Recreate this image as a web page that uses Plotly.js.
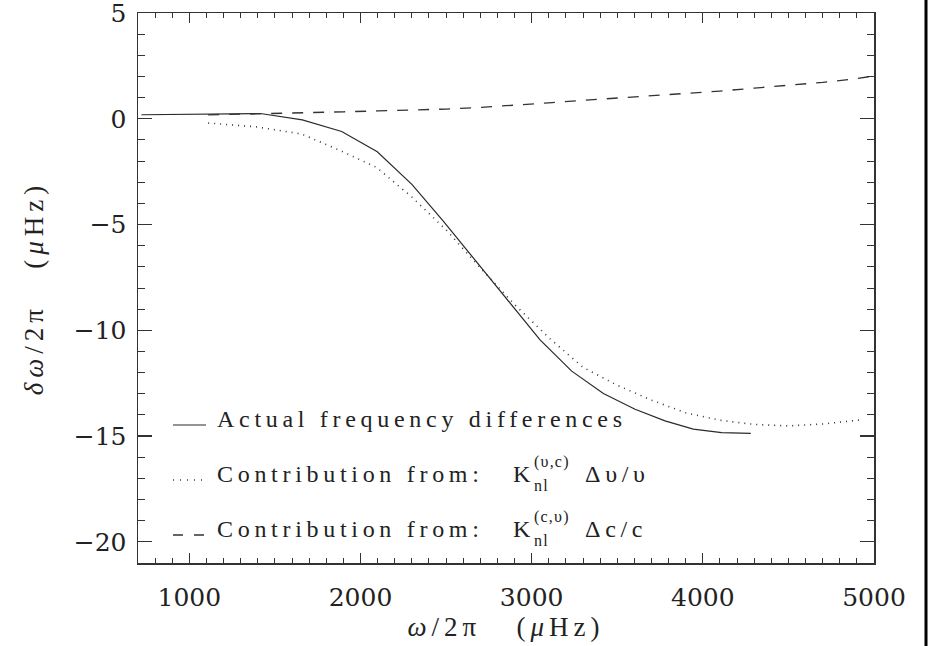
<!DOCTYPE html>
<html>
<head>
<meta charset="utf-8">
<script src="https://cdn.plot.ly/plotly-3.0.1.min.js"></script>
<style>
  html, body { margin: 0; padding: 0; background: #fff; }
  #chart { width: 929px; height: 646px; }
  .annotation-text { letter-spacing: 4.7px; }
  text.annotation-text[style*="font-size: 16px"] { letter-spacing: 1.2px; }
  .xtitle, .ytitle { letter-spacing: 5px; }
</style>
</head>
<body>
<div id="chart"></div>
<script>
// ---- data ----
const freqActual = [720, 1415, 1660, 1890, 2098, 2300, 2480, 2680, 2870, 3049, 3234, 3419, 3604, 3779, 3944, 4110, 4280];
const diffActual = [0.19, 0.25, -0.05, -0.6, -1.56, -3.1, -4.8, -6.8, -8.65, -10.45, -11.93, -12.99, -13.73, -14.28, -14.67, -14.84, -14.87];

const freqRho = [1110, 1390, 1656, 1880, 2094, 2300, 2500, 2700, 2900, 3100, 3300, 3500, 3700, 3900, 4100, 4300, 4500, 4700, 4940];
const diffRho = [-0.2, -0.38, -0.72, -1.5, -2.3, -3.7, -5.25, -7.05, -8.78, -10.35, -11.75, -12.6, -13.3, -13.9, -14.25, -14.45, -14.52, -14.43, -14.22];

const freqC = [1110, 1300, 1500, 1700, 1900, 2100, 2300, 2500, 2700, 2900, 3100, 3300, 3500, 3700, 3900, 4100, 4300, 4500, 4700, 4900, 4980];
const diffC = [0.18, 0.21, 0.24, 0.28, 0.33, 0.37, 0.40, 0.46, 0.54, 0.63, 0.75, 0.87, 0.98, 1.07, 1.17, 1.31, 1.45, 1.59, 1.72, 1.90, 2.0];

const xTickVals = [1000, 2000, 3000, 4000, 5000];
const xTickText = ['1000', '2000', '3000', '4000', '5000'];
const yTickVals = [5, 0, -5, -10, -15, -20];

const legendLabels = ['Actual frequency differences', 'Contribution from:', 'Contribution from:'];
const legendSup = ['(υ,c)', '(c,υ)'];
const legendRatio = ['Δυ/υ', 'Δc/c'];

const xTitle = '<i>ω</i>/2π\u00a0\u00a0\u00a0(<i>μ</i>Hz)';
const yTitle = '<i>δω</i>/2π\u00a0\u00a0\u00a0(<i>μ</i>Hz)';

// ---- layout geometry ----
const W = 929, H = 646;
const M = {l: 138, r: 55, t: 13, b: 83};
const PW = W - M.l - M.r, PH = H - M.t - M.b;
const px = x => (x - M.l) / PW;
const py = y => (H - M.b - y) / PH;

const lineCol = '#2a2a2a';
const txtFont = {family: 'Liberation Serif', size: 24, color: '#222'};
const supFont = {family: 'Liberation Serif', size: 16, color: '#222'};

const traces = [
  {x: freqActual, y: diffActual, mode: 'lines', line: {color: lineCol, width: 1.2}, showlegend: false},
  {x: freqRho, y: diffRho, mode: 'lines', line: {color: '#333', width: 1.6, dash: '1px,5px'}, showlegend: false},
  {x: freqC, y: diffC, mode: 'lines', line: {color: '#333', width: 1.3, dash: '11px,10px'}, showlegend: false}
];

const rowY = [419, 474, 529];
const annotations = [];
legendLabels.forEach((t, i) => {
  annotations.push({xref: 'paper', yref: 'paper', x: px(215), y: py(rowY[i]), xanchor: 'left', yanchor: 'middle',
    text: t, showarrow: false, font: txtFont});
});
[0, 1].forEach(j => {
  const r = rowY[j + 1];
  annotations.push({xref: 'paper', yref: 'paper', x: px(511), y: py(r), xanchor: 'left', yanchor: 'middle',
    text: 'K', showarrow: false, font: txtFont});
  annotations.push({xref: 'paper', yref: 'paper', x: px(532), y: py(r - 12), xanchor: 'left', yanchor: 'middle',
    text: legendSup[j], showarrow: false, font: supFont});
  annotations.push({xref: 'paper', yref: 'paper', x: px(532), y: py(r + 11), xanchor: 'left', yanchor: 'middle',
    text: 'nl', showarrow: false, font: supFont});
  annotations.push({xref: 'paper', yref: 'paper', x: px(583), y: py(r), xanchor: 'left', yanchor: 'middle',
    text: legendRatio[j], showarrow: false, font: txtFont});
});

const shapes = [
  {type: 'line', xref: 'paper', yref: 'paper', x0: px(173), x1: px(206), y0: py(425), y1: py(425),
    line: {color: lineCol, width: 1.2}},
  {type: 'line', xref: 'paper', yref: 'paper', x0: px(173), x1: px(204), y0: py(480), y1: py(480),
    line: {color: '#333', width: 1.6, dash: '1px,6px'}},
  {type: 'line', xref: 'paper', yref: 'paper', x0: px(173), x1: px(204), y0: py(535), y1: py(535),
    line: {color: '#333', width: 1.3, dash: '10px,11px'}},
  // page border on the right
  {type: 'line', xref: 'paper', yref: 'paper', x0: px(926), x1: px(926), y0: py(H + 5), y1: py(-5),
    line: {color: '#000', width: 3}}
];

const axisCommon = {
  showgrid: false, zeroline: false, showline: true, linecolor: '#333', linewidth: 1.5,
  mirror: 'ticks', ticks: 'inside', tickcolor: '#333', tickwidth: 1.3,
  tickfont: {family: 'DejaVu Serif', size: 25, color: '#222'},
  ticklabeloverflow: 'allow',
  fixedrange: true
};

const layout = {
  width: W, height: H,
  margin: M,
  paper_bgcolor: '#fff', plot_bgcolor: '#fff',
  showlegend: false,
  xaxis: Object.assign({}, axisCommon, {
    range: [700, 5000], tickmode: 'array', tickvals: xTickVals, ticktext: xTickText,
    ticklen: 10, ticklabelstandoff: 11,
    minor: {dtick: 100, ticks: 'inside', ticklen: 5, tickcolor: '#333', tickwidth: 1, showgrid: false},
    title: {text: xTitle, font: {family: 'Liberation Serif', size: 27, color: '#222'}, standoff: 6}
  }),
  yaxis: Object.assign({}, axisCommon, {
    range: [-21, 5], tickmode: 'array', tickvals: yTickVals,
    ticklen: 14, ticklabelstandoff: 5,
    minor: {dtick: 1, ticks: 'inside', ticklen: 7, tickcolor: '#333', tickwidth: 1, showgrid: false},
    title: {text: yTitle, font: {family: 'Liberation Serif', size: 27, color: '#222'}, standoff: 22}
  }),
  annotations: annotations,
  shapes: shapes
};

Plotly.newPlot('chart', traces, layout, {staticPlot: true, displayModeBar: false});
</script>
</body>
</html>
